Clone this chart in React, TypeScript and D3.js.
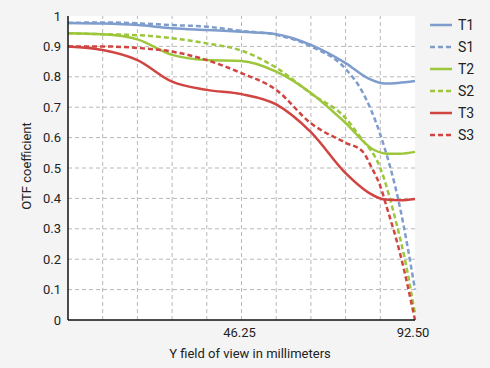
import * as d3 from "d3";
import React from "react";

type Pt = [number, number];

// field positions in mm, OTF values
const xTicks = [46.25, 92.5];
const yTicks = [0, 0.1, 0.2, 0.3, 0.4, 0.5, 0.6, 0.7, 0.8, 0.9, 1];

const t1: Pt[] = [[0, 0.977], [9.25, 0.975], [18.5, 0.97], [27.75, 0.96], [37, 0.954], [46.25, 0.948], [55.5, 0.94], [64.75, 0.905], [74, 0.845], [80, 0.795], [84.5, 0.778], [88, 0.78], [92.5, 0.786]];
const s1: Pt[] = [[0, 0.977], [9.25, 0.979], [18.5, 0.976], [27.75, 0.97], [37, 0.965], [46.25, 0.951], [55.5, 0.938], [64.75, 0.9], [74, 0.826], [78.5, 0.75], [83.25, 0.61], [88.5, 0.37], [92.5, 0.1]];
const t2: Pt[] = [[0, 0.943], [9.25, 0.94], [18.5, 0.923], [27.75, 0.872], [37, 0.855], [46.25, 0.852], [55.5, 0.817], [64.75, 0.747], [74, 0.648], [81.5, 0.56], [85, 0.547], [88.5, 0.547], [92.5, 0.553]];
const s2: Pt[] = [[0, 0.943], [9.25, 0.94], [18.5, 0.937], [27.75, 0.927], [37, 0.91], [46.25, 0.886], [55.5, 0.83], [64.75, 0.745], [74, 0.664], [78, 0.6], [83.25, 0.5], [87.7, 0.31], [89.8, 0.2], [92.5, 0.02]];
const t3: Pt[] = [[0, 0.9], [9.25, 0.888], [18.5, 0.855], [27.75, 0.784], [37, 0.757], [46.25, 0.743], [55.5, 0.709], [64.75, 0.618], [74, 0.483], [80, 0.42], [84.5, 0.396], [88.5, 0.394], [92.5, 0.398]];
const s3: Pt[] = [[0, 0.9], [9.25, 0.9], [18.5, 0.895], [27.75, 0.883], [37, 0.855], [46.25, 0.812], [55.5, 0.757], [64.75, 0.647], [74, 0.583], [78.5, 0.555], [81, 0.5], [83.25, 0.44], [85, 0.37], [88.5, 0.22], [92.5, 0]];

const series = [
  { name: "T1", data: t1, color: "#7f9dcc", dashed: false },
  { name: "S1", data: s1, color: "#7f9dcc", dashed: true },
  { name: "T2", data: t2, color: "#9cc63b", dashed: false },
  { name: "S2", data: s2, color: "#9cc63b", dashed: true },
  { name: "T3", data: t3, color: "#d04541", dashed: false },
  { name: "S3", data: s3, color: "#d04541", dashed: true },
];

const W = 490;
const H = 368;
const m = { left: 68, right: 75, top: 16, bottom: 48 };
const font = "Roboto, sans-serif";

export default function App() {
  const x = d3.scaleLinear().domain([0, 92.5]).range([m.left, W - m.right]);
  const y = d3.scaleLinear().domain([0, 1]).range([H - m.bottom, m.top]);
  const line = d3
    .line<Pt>()
    .x((d) => x(d[0]))
    .y((d) => y(d[1]))
    .curve(d3.curveMonotoneX);

  const gridX = d3.range(1, 10).map((i) => i * 9.25);
  const gridY = d3.range(1, 10).map((i) => i / 10);

  return (
    <svg
      width={W}
      height={H}
      style={{ position: "absolute", left: 0, top: 0, background: "#f4f4f4" }}
      fontFamily={font}
    >
      <rect x={m.left} y={y(1)} width={x(92.5) - m.left} height={y(0) - y(1)} fill="#fff" />
      <g stroke="#b8b8b8" strokeWidth={1} strokeDasharray="4,3">
        {gridX.map((v) => (
          <line key={"gx" + v} x1={x(v)} x2={x(v)} y1={y(0)} y2={y(1)} />
        ))}
        {gridY.map((v) => (
          <line key={"gy" + v} x1={x(0)} x2={x(92.5)} y1={y(v)} y2={y(v)} />
        ))}
      </g>
      {series.map((s) => (
        <path
          key={s.name}
          d={line(s.data) || ""}
          fill="none"
          stroke={s.color}
          strokeWidth={2.5}
          strokeDasharray={s.dashed ? "5,3" : undefined}
        />
      ))}
      <line x1={x(0)} x2={x(0)} y1={y(1)} y2={y(0)} stroke="#111" strokeWidth={1.5} />
      <line x1={x(0)} x2={x(92.5)} y1={y(0)} y2={y(0)} stroke="#111" strokeWidth={1.5} />
      {yTicks.map((v) => (
        <text key={"yt" + v} x={m.left - 7} y={y(v)} dy="0.35em" textAnchor="end" fontSize={13} fill="#222">
          {d3.format("~g")(v)}
        </text>
      ))}
      {xTicks.map((v) => (
        <text key={"xt" + v} x={x(v) - 2} y={y(0) + 17} textAnchor="middle" fontSize={13} fill="#222">
          {d3.format(".2f")(v)}
        </text>
      ))}
      <text x={250} y={358} textAnchor="middle" fontSize={13} fill="#222">
        Y field of view in millimeters
      </text>
      <text transform="translate(31,166) rotate(-90)" textAnchor="middle" fontSize={13} fill="#222">
        OTF coefficient
      </text>
      {series.map((s, i) => (
        <g key={"lg" + s.name} transform={`translate(430,${25 + i * 22})`}>
          <line x1={0} x2={22} y1={0} y2={0} stroke={s.color} strokeWidth={2.5} strokeDasharray={s.dashed ? "5,3" : undefined} />
          <text x={28} y={0} dy="0.35em" fontSize={14} fill="#222">
            {s.name}
          </text>
        </g>
      ))}
    </svg>
  );
}
